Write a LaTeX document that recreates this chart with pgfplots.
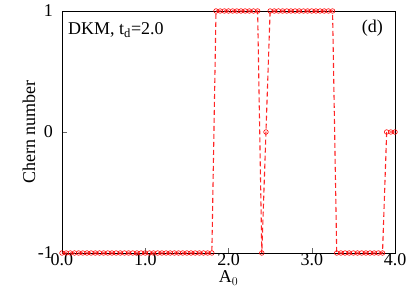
\documentclass[border=0pt]{standalone}
\usepackage{pgfplots}
\pgfplotsset{compat=1.18}
\usepackage{fontspec}
\setmainfont{Liberation Serif}
\begin{document}
\begin{tikzpicture}
\begin{axis}[
  name=ax,
  scale only axis, width=333pt, height=242pt,
  xmin=0, xmax=4, ymin=-1, ymax=1,
  xtick={0,1,2,3,4}, ytick={-1,0,1},
  xticklabels={0.0,1.0,2.0,3.0,4.0},
  tick align=inside, major tick length=5pt,
  tick style={black!60, line width=0.5pt},
  clip=false,
  font=\fontsize{18}{20}\selectfont,
  /pgf/number format/assume math mode=true,
  xticklabel style={inner sep=1pt, yshift=1pt},
  yticklabel style={inner sep=0pt, xshift=-9pt},
  xlabel={A$_0$}, ylabel={Chern number},
  every axis x label/.style={at={([yshift=-25pt]rel axis cs:0.5,0)}, anchor=center},
  every axis y label/.style={at={([xshift=-33pt]rel axis cs:0,0.5)}, anchor=center, rotate=90},
  axis line style={line width=0.8pt},
  xtick pos=bottom, ytick pos=left,
]
\addplot[red!85, line width=1.1pt, dash pattern=on 5pt off 3pt,
  mark=o, mark size=2.3pt, mark options={solid, red, line width=0.6pt}] coordinates {
(0.00,-1)(0.05,-1)(0.10,-1)(0.15,-1)(0.20,-1)(0.25,-1)(0.30,-1)(0.35,-1)(0.40,-1)(0.45,-1)
(0.50,-1)(0.55,-1)(0.60,-1)(0.65,-1)(0.70,-1)(0.75,-1)(0.80,-1)(0.85,-1)(0.90,-1)(0.95,-1)
(1.00,-1)(1.05,-1)(1.10,-1)(1.15,-1)(1.20,-1)(1.25,-1)(1.30,-1)(1.35,-1)(1.40,-1)(1.45,-1)
(1.50,-1)(1.55,-1)(1.60,-1)(1.65,-1)(1.70,-1)(1.75,-1)(1.80,-1)
(1.85,1)(1.90,1)(1.95,1)(2.00,1)(2.05,1)(2.10,1)(2.15,1)(2.20,1)(2.25,1)(2.30,1)(2.35,1)
(2.40,-1)(2.45,0)
(2.50,1)(2.55,1)(2.60,1)(2.65,1)(2.70,1)(2.75,1)(2.80,1)(2.85,1)(2.90,1)(2.95,1)
(3.00,1)(3.05,1)(3.10,1)(3.15,1)(3.20,1)(3.25,1)
(3.30,-1)(3.35,-1)(3.40,-1)(3.45,-1)(3.50,-1)(3.55,-1)(3.60,-1)(3.65,-1)(3.70,-1)(3.75,-1)(3.80,-1)(3.85,-1)
(3.90,0)(3.95,0)(4.00,0)
};
\node[anchor=base west, inner sep=0pt] at ([xshift=6pt,yshift=-24pt]rel axis cs:0,1) {DKM, t$_\mathrm{d}$=2.0};
\node[anchor=base east, inner sep=0pt] at ([xshift=-12pt,yshift=-22pt]rel axis cs:1,1) {(d)};
\end{axis}
\path (ax.south west) ++(-62pt,-35pt) rectangle ([shift={(16pt,11pt)}]ax.north east);
\end{tikzpicture}
\end{document}
